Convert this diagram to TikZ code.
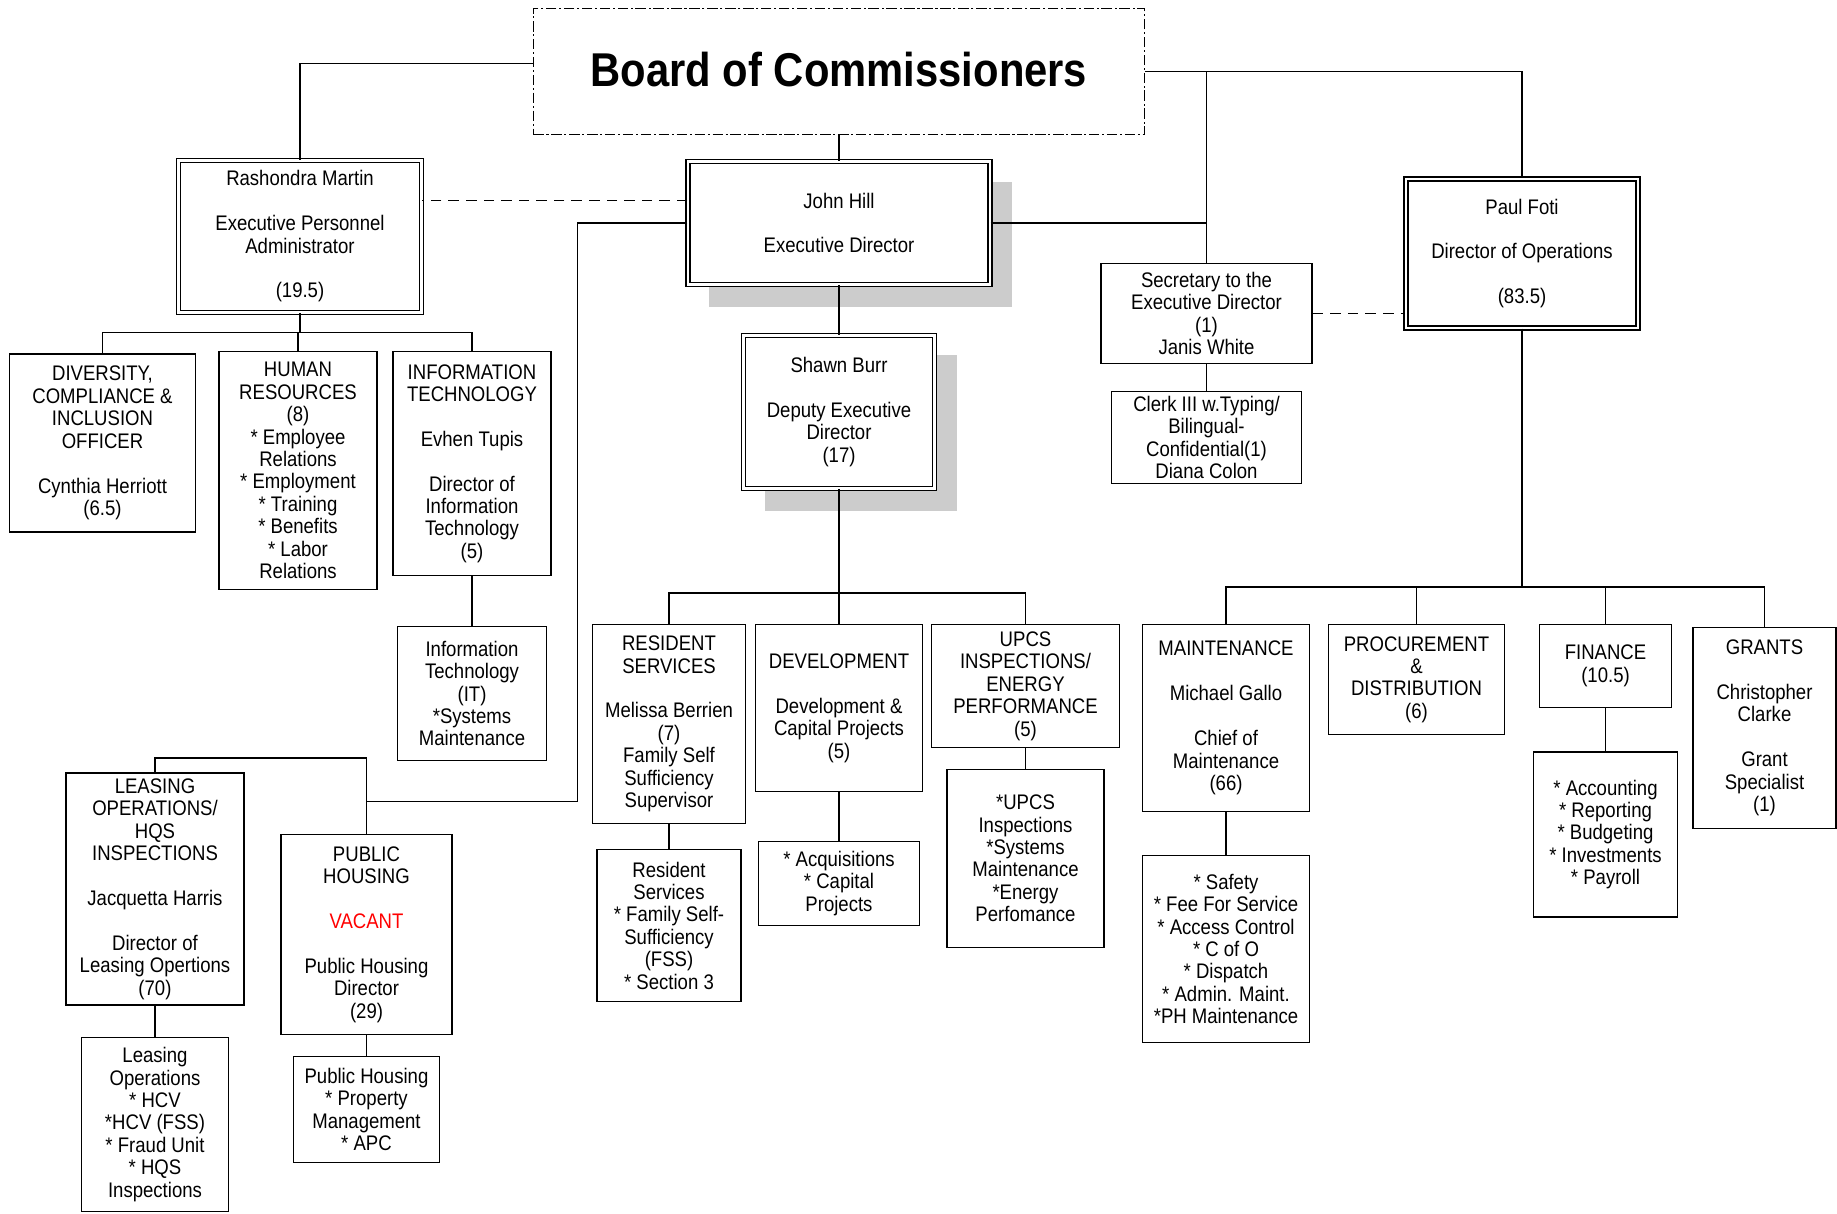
\documentclass[tikz,border=0pt]{standalone}
\usepackage{fontspec}
\setmainfont[FakeStretch=0.88]{Liberation Sans}

\begin{document}
\begin{tikzpicture}[
  every node/.style={font=\fontsize{12}{12.75}\selectfont},
  box/.style={draw, rectangle, align=center, inner sep=0pt, line width=0.8pt, fill=white},
  headbox/.style={box, double, double distance=1.5pt, line width=0.7pt},
  shade/.style={fill=gray!40, draw=none},
  link/.style={line width=0.8pt},
  dotted link/.style={link, dash pattern=on 6pt off 4pt}]
  \useasboundingbox (0,0) rectangle (36.74,-24.27);
  % Shadows behind the two director boxes
  \fill[shade] (14.17,-3.63) rectangle (20.24,-6.14);
  \fill[shade] (15.30,-7.10) rectangle (19.14,-10.22);
  % Top level
  \node[draw, rectangle, line width=0.8pt, dash pattern=on 6pt off 1.5pt on 1.2pt off 1.5pt,
        minimum width=12.23cm, minimum height=2.53cm,
        font=\fontsize{27}{30}\selectfont\bfseries] (board) at (16.78,-1.43) {\raisebox{0.1cm}{Board of Commissioners}};
  \node[headbox, minimum width=4.87cm, minimum height=3.05cm] (rash) at (6.00,-4.73) {Rashondra Martin\\[12.75pt]Executive Personnel\\Administrator\\[12.75pt](19.5)};
  \node[headbox, minimum width=6.04cm, minimum height=2.46cm] (jh) at (16.78,-4.46) {John Hill\\[12.75pt]Executive Director};
  \node[headbox, minimum width=3.82cm, minimum height=3.07cm] (sb) at (16.78,-8.24) {Shawn Burr\\[12.75pt]Deputy Executive\\Director\\(17)};
  \node[box, minimum width=4.22cm, minimum height=1.99cm] (sec) at (24.13,-6.27) {Secretary to the\\Executive Director\\(1)\\Janis White};
  \node[box, minimum width=3.80cm, minimum height=1.85cm] (clerk) at (24.13,-8.75) {Clerk III w.Typing/\\Bilingual-\\Confidential(1)\\Diana Colon};
  \node[headbox, minimum width=4.64cm, minimum height=2.98cm] (paul) at (30.44,-5.07) {Paul Foti\\[12.75pt]Director of Operations\\[12.75pt](83.5)};
  % Personnel
  \node[box, minimum width=3.73cm, minimum height=3.56cm] (div) at (2.05,-8.86) {DIVERSITY,\\COMPLIANCE \&\\INCLUSION\\OFFICER\\[12.75pt]Cynthia Herriott\\(6.5)};
  \node[box, minimum width=3.16cm, minimum height=4.76cm] (hr) at (5.96,-9.41) {HUMAN\\RESOURCES\\(8)\\* Employee\\Relations\\* Employment\\* Training\\* Benefits\\* Labor\\Relations};
  \node[box, minimum width=3.16cm, minimum height=4.48cm] (it) at (9.44,-9.27) {INFORMATION\\TECHNOLOGY\\[12.75pt]Evhen Tupis\\[12.75pt]Director of\\Information\\Technology\\(5)};
  \node[box, minimum width=2.98cm, minimum height=2.67cm] (itsub) at (9.44,-13.87) {Information\\Technology\\(IT)\\*Systems\\Maintenance};
  % Leasing and public housing
  \node[box, minimum width=3.56cm, minimum height=4.64cm] (leas) at (3.10,-17.78) {LEASING\\OPERATIONS/\\HQS\\INSPECTIONS\\[12.75pt]Jacquetta Harris\\[12.75pt]Director of\\Leasing Opertions\\(70)};
  \node[box, minimum width=2.95cm, minimum height=3.47cm] (leassub) at (3.10,-22.49) {Leasing\\Operations\\* HCV\\*HCV (FSS)\\* Fraud Unit\\* HQS\\Inspections};
  \node[box, minimum width=3.42cm, minimum height=4.01cm] (ph) at (7.33,-18.69) {PUBLIC\\HOUSING\\[12.75pt]\textcolor{red}{VACANT}\\[12.75pt]Public Housing\\Director\\(29)};
  \node[box, minimum width=2.93cm, minimum height=2.11cm] (phsub) at (7.33,-22.19) {Public Housing\\* Property\\Management\\* APC};
  % Deputy
  \node[box, minimum width=3.05cm, minimum height=3.98cm] (res) at (13.38,-14.48) {RESIDENT\\SERVICES\\[12.75pt]Melissa Berrien\\(7)\\Family Self\\Sufficiency\\Supervisor};
  \node[box, minimum width=2.88cm, minimum height=3.05cm] (ressub) at (13.38,-18.51) {Resident\\Services\\* Family Self-\\Sufficiency\\(FSS)\\* Section 3};
  \node[box, minimum width=3.33cm, minimum height=3.35cm] (dev) at (16.78,-14.16) {DEVELOPMENT\\[12.75pt]Development \&\\Capital Projects\\(5)};
  \node[box, minimum width=3.21cm, minimum height=1.69cm] (devsub) at (16.78,-17.67) {* Acquisitions\\* Capital\\Projects};
  \node[box, minimum width=3.77cm, minimum height=2.46cm] (upcs) at (20.51,-13.72) {UPCS\\INSPECTIONS/\\ENERGY\\PERFORMANCE\\(5)};
  \node[box, minimum width=3.14cm, minimum height=3.56cm] (upcssub) at (20.51,-17.17) {*UPCS\\Inspections\\*Systems\\Maintenance\\*Energy\\Perfomance};
  % Operations
  \node[box, minimum width=3.35cm, minimum height=3.75cm] (maint) at (24.52,-14.36) {MAINTENANCE\\[12.75pt]Michael Gallo\\[12.75pt]Chief of\\Maintenance\\(66)};
  \node[box, minimum width=3.35cm, minimum height=3.75cm] (maintsub) at (24.52,-18.98) {* Safety\\* Fee For Service\\* Access Control\\* C of O\\* Dispatch\\* Admin. Maint.\\*PH Maintenance};
  \node[box, minimum width=3.51cm, minimum height=2.20cm] (proc) at (28.33,-13.59) {PROCUREMENT\\\&\\DISTRIBUTION\\(6)};
  \node[box, minimum width=2.65cm, minimum height=1.66cm] (fin) at (32.11,-13.32) {FINANCE\\(10.5)};
  \node[box, minimum width=2.88cm, minimum height=3.30cm] (finsub) at (32.11,-16.69) {* Accounting\\* Reporting\\* Budgeting\\* Investments\\* Payroll};
  \node[box, minimum width=2.86cm, minimum height=4.01cm] (grants) at (35.29,-14.56) {GRANTS\\[12.75pt]Christopher\\Clarke\\[12.75pt]Grant\\Specialist\\(1)};
  % Draw the reporting lines
  \coordinate (sjoin) at (24.13,-1.43);
  \coordinate (rbus) at (6.00,-6.65);
  \coordinate (sbus) at (16.78,-11.86);
  \coordinate (pbus) at (30.44,-11.74);
  \coordinate (lbend) at (11.55,-16.03);
  \coordinate (phjoin) at (7.33,-16.03);
  \coordinate (ljoin) at (7.33,-15.16);
  \draw[link] ([yshift=0.16cm]board.west) -| (rash.north);
  \draw[link] (board.east) -| (paul.north);
  \draw[link] (board.south) -- (jh.north);
  \draw[link] (sjoin) -- (sec.north);
  \draw[link] (jh.east) -- (jh.east -| sjoin);
  \draw[link] (sec.south) -- (clerk.north);
  \draw[dotted link] ([yshift=0.45cm]jh.west) -- ([yshift=0.45cm]jh.west -| rash.east);
  \draw[dotted link] (sec.east) -- (sec.east -| paul.west);
  \draw[link] (rash.south) -- (rbus);
  \draw[link] (rbus) -| (div.north);
  \draw[link] (rbus) -| (hr.north);
  \draw[link] (rbus) -| (it.north);
  \draw[link] (it.south) -- (itsub.north);
  \draw[link] (jh.west) -| (lbend) -- (phjoin);
  \draw[link] (ljoin) -- (ph.north);
  \draw[link] (ljoin) -| (leas.north);
  \draw[link] (leas.south) -- (leassub.north);
  \draw[link] (ph.south) -- (phsub.north);
  \draw[link] (jh.south) -- (sb.north);
  \draw[link] (sb.south) -- (sbus);
  \draw[link] (sbus) -| (res.north);
  \draw[link] (sbus) -- (dev.north);
  \draw[link] (sbus) -| (upcs.north);
  \draw[link] (res.south) -- (ressub.north);
  \draw[link] (dev.south) -- (devsub.north);
  \draw[link] (upcs.south) -- (upcssub.north);
  \draw[link] (paul.south) -- (pbus);
  \draw[link] (pbus) -| (maint.north);
  \draw[link] (pbus) -| (proc.north);
  \draw[link] (pbus) -| (fin.north);
  \draw[link] (pbus) -| (grants.north);
  \draw[link] (maint.south) -- (maintsub.north);
  \draw[link] (fin.south) -- (finsub.north);
\end{tikzpicture}
\end{document}
